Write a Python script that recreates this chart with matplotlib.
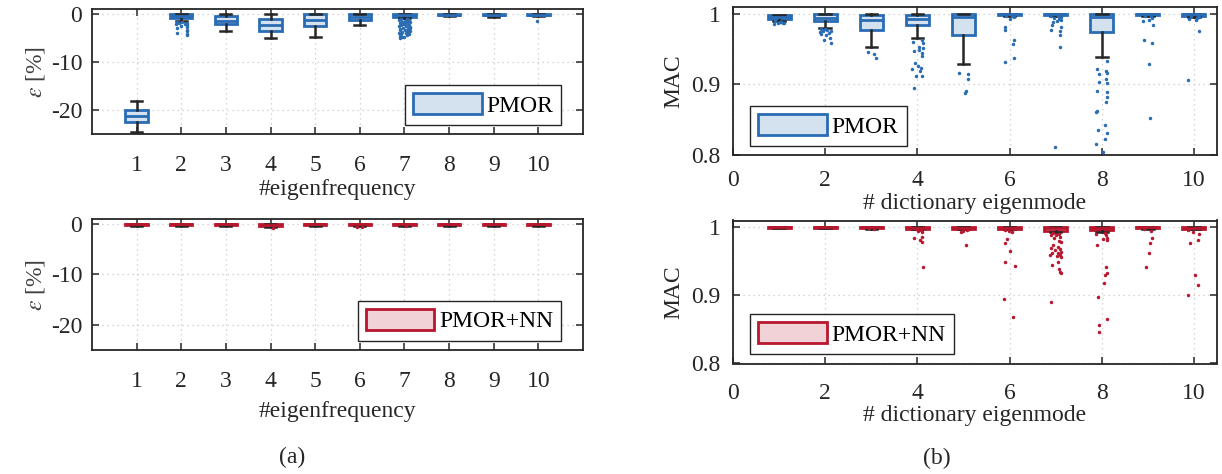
import matplotlib
matplotlib.use("Agg")
import matplotlib.pyplot as plt
from matplotlib.patches import Patch

plt.rcParams['font.family'] = ['Liberation Serif', 'DejaVu Serif']
plt.rcParams['mathtext.fontset'] = 'stix'

BLUE = '#2a6cb4'
BLUE_FILL = '#d4e1ef'
RED = '#b8172e'
RED_FILL = '#f1d2d7'
INK = '#262626'

modes = [1, 2, 3, 4, 5, 6, 7, 8, 9, 10]

# (a) eigenfrequency error eps [%] - PMOR
eps_pmor_q1 = [-22.6, -0.9, -2.05, -3.6, -2.55, -1.2, -0.6, -0.3, -0.3, -0.3]
eps_pmor_med = [-21.3, -0.5, -1.4, -2.3, -1.2, -0.6, -0.3, -0.15, -0.15, -0.15]
eps_pmor_q3 = [-20.1, 0.0, -0.55, -1.0, -0.1, 0.0, 0.0, 0.0, 0.0, 0.0]
eps_pmor_lo = [-24.5, -1.5, -3.6, -5.1, -4.8, -2.4, -0.9, -0.5, -0.6, -0.5]
eps_pmor_hi = [-18.1, 0.0, 0.0, 0.0, 0.0, 0.0, 0.0, 0.0, 0.0, 0.0]
# outliers as (x offset, value)
eps_pmor_out = {
    2: [(-0.10, -1.7), (0.02, -1.8), (0.12, -1.9), (-0.06, -2.0), (0.08, -2.1),
        (-0.11, -2.2), (0.13, -2.4), (0.00, -2.6), (0.12, -2.8), (-0.09, -3.0),
        (0.13, -3.3), (0.12, -3.6), (-0.10, -3.9), (0.13, -4.2), (0.13, -4.5)],
    7: [(-0.08, -1.0), (0.05, -1.1), (0.11, -1.2), (-0.12, -1.3), (0.02, -1.45),
        (0.09, -1.55), (-0.04, -1.7), (0.12, -1.8), (-0.10, -1.9), (0.06, -2.0),
        (0.00, -2.15), (-0.07, -2.3), (0.10, -2.35), (-0.12, -2.5), (0.04, -2.6),
        (0.13, -2.7), (-0.03, -2.85), (0.08, -2.95), (-0.09, -3.1), (0.11, -3.2),
        (0.01, -3.3), (-0.11, -3.45), (0.06, -3.5), (0.12, -3.65), (-0.05, -3.7),
        (0.09, -3.85), (-0.12, -3.95), (0.03, -4.05), (0.11, -4.2), (-0.08, -4.3),
        (0.05, -4.45), (-0.10, -4.6), (0.00, -4.75), (-0.06, -4.9), (-0.11, -5.1),
        (0.07, -1.35), (-0.02, -2.05), (0.12, -3.0), (-0.06, -1.6), (0.09, -4.0)],
    10: [(-0.02, -1.5)],
}

# (a) eigenfrequency error eps [%] - PMOR+NN
eps_nn_q1 = [-0.15, -0.15, -0.15, -0.35, -0.15, -0.2, -0.15, -0.15, -0.15, -0.15]
eps_nn_med = [-0.05, -0.05, -0.05, -0.15, -0.05, -0.05, -0.05, -0.05, -0.05, -0.05]
eps_nn_q3 = [0.0] * 10
eps_nn_lo = [-0.3, -0.3, -0.3, -0.6, -0.3, -0.4, -0.3, -0.3, -0.3, -0.3]
eps_nn_hi = [0.0] * 10
eps_nn_out = {
    4: [(0.05, -0.7)],
    6: [(-0.06, -0.55), (0.04, -0.65)],
    7: [(0.03, -0.45)],
}

# (b) MAC - PMOR
mac_pmor_q1 = [0.993, 0.989, 0.977, 0.984, 0.969, 0.998, 0.998, 0.9735, 0.998, 0.997]
mac_pmor_med = [0.995, 0.994, 0.9905, 0.992, 0.9953, 0.9995, 0.9995, 0.995, 0.9995, 0.9993]
mac_pmor_q3 = [0.9975, 1.0, 0.998, 0.9985, 1.0, 1.0, 1.0, 1.0, 1.0, 1.0]
mac_pmor_lo = [0.990, 0.979, 0.9526, 0.966, 0.929, 0.996, 0.996, 0.938, 0.996, 0.995]
mac_pmor_hi = [0.9985, 1.0, 1.0, 1.0, 1.0, 1.0, 1.0, 1.0, 1.0, 1.0]
mac_pmor_out = {
    1: [(-0.08, 0.989), (0.05, 0.988), (-0.03, 0.987), (0.09, 0.986), (-0.10, 0.985),
        (0.02, 0.9875), (0.10, 0.9865)],
    2: [(-0.10, 0.978), (0.04, 0.977), (0.12, 0.976), (-0.05, 0.975), (0.08, 0.973),
        (-0.09, 0.971), (0.02, 0.969), (0.11, 0.966), (-0.03, 0.963), (0.12, 0.958),
        (0.00, 0.9775), (-0.12, 0.974)],
    3: [(-0.07, 0.945), (0.06, 0.943), (0.10, 0.937)],
    4: [(0.09, 0.9628), (-0.10, 0.9604), (0.04, 0.9534), (0.12, 0.952), (-0.07, 0.9464),
        (0.10, 0.9442), (0.11, 0.9395), (-0.06, 0.9303), (0.02, 0.9256), (0.08, 0.9233),
        (-0.11, 0.921), (0.06, 0.9186), (-0.02, 0.9116), (0.10, 0.9116), (-0.08, 0.8954),
        (0.12, 0.958), (0.03, 0.948)],
    5: [(-0.10, 0.9163), (0.10, 0.914), (0.10, 0.908), (0.06, 0.891), (0.03, 0.888)],
    6: [(0.05, 0.997), (-0.08, 0.996), (0.10, 0.995), (0.02, 0.993), (-0.10, 0.981),
        (-0.11, 0.977), (0.10, 0.963), (0.08, 0.957), (0.10, 0.937), (-0.11, 0.932)],
    7: [(-0.10, 0.997), (0.06, 0.996), (0.11, 0.9955), (-0.04, 0.994), (0.12, 0.9907),
        (0.03, 0.989), (-0.08, 0.984), (0.12, 0.981), (-0.11, 0.977), (0.09, 0.975),
        (0.10, 0.970), (0.10, 0.953), (-0.02, 0.811), (0.07, 0.992), (-0.06, 0.988)],
    8: [(0.12, 0.9335), (-0.10, 0.921), (0.10, 0.9186), (0.12, 0.9163), (-0.05, 0.914),
        (0.09, 0.907), (-0.07, 0.9038), (0.11, 0.9014), (-0.10, 0.8907), (0.12, 0.8884),
        (0.11, 0.8815), (0.09, 0.8745), (-0.11, 0.8628), (-0.12, 0.8605), (0.08, 0.8418),
        (-0.08, 0.8349), (0.11, 0.8312), (0.06, 0.8233), (-0.13, 0.8153), (0.03, 0.8047)],
    9: [(0.07, 0.997), (-0.06, 0.996), (0.10, 0.994), (0.02, 0.9916), (-0.11, 0.99),
        (0.12, 0.984), (-0.09, 0.963), (0.08, 0.958), (0.03, 0.928), (0.05, 0.852)],
    10: [(-0.07, 0.997), (0.09, 0.996), (0.11, 0.995), (-0.10, 0.9925), (0.04, 0.991),
         (0.12, 0.976), (-0.12, 0.906), (0.07, 0.994)],
}

# (b) MAC - PMOR+NN
mac_nn_q1 = [0.9995, 0.9995, 0.999, 0.998, 0.998, 0.998, 0.995, 0.996, 0.999, 0.998]
mac_nn_med = [1.0, 1.0, 0.9998, 0.9995, 0.9995, 0.9995, 0.9985, 0.999, 0.9998, 0.9995]
mac_nn_q3 = [1.0] * 10
mac_nn_lo = [0.999, 0.999, 0.998, 0.997, 0.997, 0.997, 0.9926, 0.993, 0.998, 0.997]
mac_nn_hi = [1.0] * 10
mac_nn_out = {
    3: [(0.05, 0.998), (-0.06, 0.9985)],
    4: [(0.08, 0.996), (0.10, 0.9935), (-0.08, 0.984), (0.06, 0.981), (0.10, 0.979),
        (0.12, 0.942), (-0.04, 0.997), (0.02, 0.995), (0.11, 0.986)],
    5: [(0.07, 0.996), (-0.05, 0.9935), (0.06, 0.974), (0.11, 0.997), (0.00, 0.995)],
    6: [(-0.10, 0.996), (0.06, 0.9935), (-0.05, 0.983), (-0.09, 0.9765), (0.01, 0.965),
        (-0.11, 0.949), (0.12, 0.9435), (-0.12, 0.894), (0.08, 0.868), (0.10, 0.997),
        (-0.02, 0.995)],
    7: [(0.10, 0.986), (-0.03, 0.984), (0.07, 0.980), (0.12, 0.979), (-0.06, 0.974),
        (0.04, 0.9715), (-0.10, 0.969), (0.09, 0.968), (-0.01, 0.9666), (0.12, 0.964),
        (-0.08, 0.963), (0.05, 0.9618), (0.10, 0.960), (-0.12, 0.959), (0.03, 0.958),
        (0.11, 0.957), (0.06, 0.949), (-0.09, 0.9445), (0.07, 0.9387), (0.10, 0.9347),
        (0.12, 0.9324), (-0.11, 0.8906), (-0.05, 0.991), (0.08, 0.990), (0.01, 0.988),
        (-0.10, 0.989)],
    8: [(0.10, 0.9887), (0.03, 0.983), (0.12, 0.9813), (-0.10, 0.974), (0.10, 0.942),
        (0.12, 0.9324), (0.08, 0.930), (0.05, 0.9176), (-0.09, 0.897), (0.11, 0.866),
        (-0.07, 0.856), (-0.05, 0.8456), (0.07, 0.991), (-0.12, 0.990), (0.12, 0.985)],
    9: [(0.06, 0.995), (0.09, 0.984), (0.05, 0.977), (0.02, 0.963), (-0.03, 0.941),
        (-0.08, 0.997)],
    10: [(-0.12, 0.996), (0.09, 0.981), (-0.09, 0.977), (0.02, 0.930), (0.08, 0.915),
         (-0.12, 0.900), (0.11, 0.990), (-0.02, 0.993)],
}


def draw_boxes(ax, q1, med, q3, lo, hi, outliers, edge, fill):
    stats = []
    for i in range(len(modes)):
        stats.append(dict(q1=q1[i], med=med[i], q3=q3[i], whislo=lo[i], whishi=hi[i],
                          fliers=[]))
    ax.bxp(stats, positions=modes, widths=0.5, capwidths=0.25, patch_artist=True,
           showfliers=False,
           boxprops=dict(facecolor=fill, edgecolor=edge, linewidth=2.0),
           medianprops=dict(color=edge, linewidth=2.0),
           whiskerprops=dict(color=INK, linewidth=1.8),
           capprops=dict(color=INK, linewidth=1.8), zorder=3)
    for m, pts in outliers.items():
        xs = [m + dx for dx, v in pts]
        ys = [v for dx, v in pts]
        ax.plot(xs, ys, 'o', ms=2.5, color=edge, mec='none', zorder=4)


def style_axes(ax):
    for s in ax.spines.values():
        s.set_color(INK)
        s.set_linewidth(1.3)
    ax.tick_params(direction='in', top=True, right=True, length=5, width=1.1,
                   colors=INK, labelsize=17)
    ax.grid(True, linestyle=(0, (1, 3)), color='#c8c8c8', linewidth=0.9, zorder=0)
    ax.set_axisbelow(True)


def add_legend(ax, label, edge, fill, anchor, loc):
    h = Patch(facecolor=fill, edgecolor=edge, linewidth=2.0)
    leg = ax.legend([h], [label], loc=loc, bbox_to_anchor=anchor, fontsize=17,
                    frameon=True, fancybox=False, framealpha=1, edgecolor=INK,
                    handlelength=2.9, handleheight=1.0, handletextpad=0.2,
                    borderpad=0.35, borderaxespad=0)
    leg.get_frame().set_linewidth(1.0)


W, H = 1222, 474
fig = plt.figure(figsize=(W / 100, H / 100), dpi=100)


def px_axes(left, top, right, bottom):
    return fig.add_axes([left / W, 1 - bottom / H, (right - left) / W, (bottom - top) / H])


ax_tl = px_axes(92, 9, 583, 134)
ax_bl = px_axes(92, 219, 583, 350)
ax_tr = px_axes(733, 6.5, 1217, 155)
ax_br = px_axes(733, 220.5, 1217, 363.5)

draw_boxes(ax_tl, eps_pmor_q1, eps_pmor_med, eps_pmor_q3, eps_pmor_lo, eps_pmor_hi,
           eps_pmor_out, BLUE, BLUE_FILL)
draw_boxes(ax_bl, eps_nn_q1, eps_nn_med, eps_nn_q3, eps_nn_lo, eps_nn_hi,
           eps_nn_out, RED, RED_FILL)
draw_boxes(ax_tr, mac_pmor_q1, mac_pmor_med, mac_pmor_q3, mac_pmor_lo, mac_pmor_hi,
           mac_pmor_out, BLUE, BLUE_FILL)
draw_boxes(ax_br, mac_nn_q1, mac_nn_med, mac_nn_q3, mac_nn_lo, mac_nn_hi,
           mac_nn_out, RED, RED_FILL)

for ax in (ax_tl, ax_bl):
    style_axes(ax)
    ax.set_xlim(0, 11)
    ax.set_ylim(-25, 1)
    ax.set_xticks(modes)
    ax.set_xticklabels([str(m) for m in modes])
    ax.set_yticks([-20, -10, 0])
    ax.set_yticklabels(['-20', '-10', '0'])
    ax.tick_params(axis='x', pad=15)
    ax.tick_params(axis='y', pad=7)
    ax.set_xlabel('#eigenfrequency', fontsize=17, color=INK, va='center')
    ax.set_ylabel(r'$\varepsilon$ [%]', fontsize=17, color='#404040', va='center')
    ax.yaxis.set_label_coords(-0.115, 0.5)
ax_tl.xaxis.set_label_coords(0.5, -0.444)
ax_bl.xaxis.set_label_coords(0.5, -0.471)

for ax in (ax_tr, ax_br):
    style_axes(ax)
    ax.set_xlim(0, 10.5)
    ax.set_ylim(0.8, 1.01)
    ax.set_xticks([0, 2, 4, 6, 8, 10])
    ax.set_xticklabels(['0', '2', '4', '6', '8', '10'])
    ax.set_yticks([0.8, 0.9, 1.0])
    ax.set_yticklabels(['0.8', '0.9', '1'])
    ax.tick_params(axis='y', pad=9)
    ax.set_xlabel('# dictionary eigenmode', fontsize=17, color=INK, va='center')
    ax.set_ylabel('MAC', fontsize=17, color=INK, va='center')
    ax.yaxis.set_label_coords(-0.122, 0.5)
ax_tr.tick_params(axis='x', pad=11)
ax_br.tick_params(axis='x', pad=14)
ax_tr.xaxis.set_label_coords(0.5, -0.325)
ax_br.xaxis.set_label_coords(0.5, -0.365)

add_legend(ax_tl, 'PMOR', BLUE, BLUE_FILL, (0.956, 0.071), 'lower right')
add_legend(ax_bl, 'PMOR+NN', RED, RED_FILL, (0.956, 0.071), 'lower right')
add_legend(ax_tr, 'PMOR', BLUE, BLUE_FILL, (0.035, 0.061), 'lower left')
add_legend(ax_br, 'PMOR+NN', RED, RED_FILL, (0.035, 0.066), 'lower left')

fig.text(292 / W, 1 - 457 / H, '(a)', fontsize=17, color=INK, ha='center', va='center')
fig.text(937 / W, 1 - 458 / H, '(b)', fontsize=17, color=INK, ha='center', va='center')

fig.savefig('out.png', dpi=100)
